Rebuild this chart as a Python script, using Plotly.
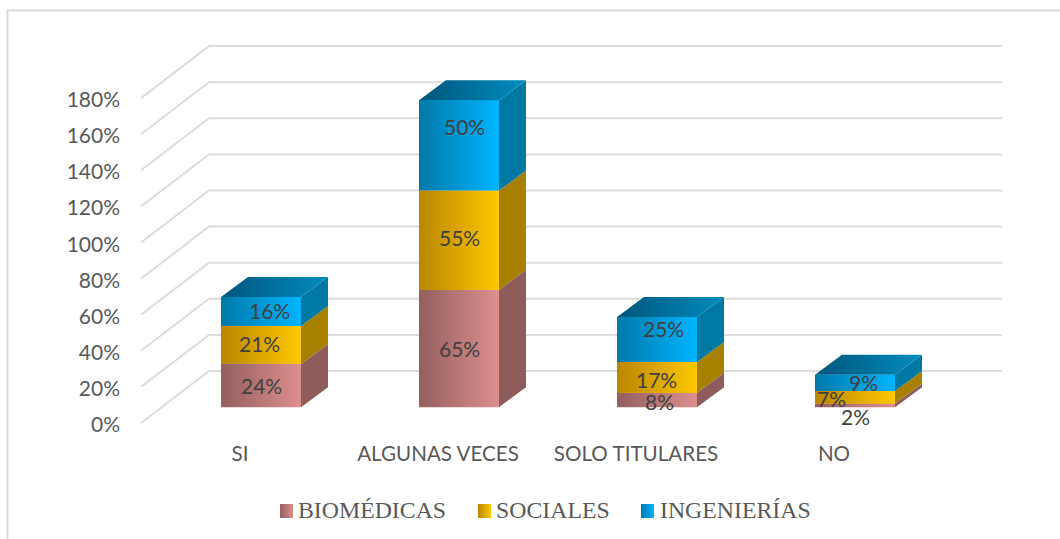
import plotly.graph_objects as go

categories = ["SI", "ALGUNAS VECES", "SOLO TITULARES", "NO"]
series_names = ["BIOMÉDICAS", "SOCIALES", "INGENIERÍAS"]
biomedicas = [24, 65, 8, 2]
sociales = [21, 55, 17, 7]
ingenierias = [16, 50, 25, 9]
series_values = [biomedicas, sociales, ingenierias]
axis_ticks = [0, 20, 40, 60, 80, 100, 120, 140, 160, 180]

W, H = 1060, 539
PLOT_L, PLOT_R, PLOT_T, PLOT_B = 123, 1060, 0, 439
PX_PER_CAT = 198.0
PX_PER_PCT = 1.805
X0_PX = 240.0      # pixel of category 0 tick label
Y0_PX = 407.2      # pixel of value 0 on the bars' front plane

def ux(px):  # horizontal pixel length to category units
    return px / PX_PER_CAT
def uy(px):  # vertical pixel length to percentage units
    return px / PX_PER_PCT

x_range = [(PLOT_L - X0_PX) / PX_PER_CAT, (PLOT_R - X0_PX) / PX_PER_CAT]
y_range = [(Y0_PX - PLOT_B) / PX_PER_PCT, (Y0_PX - PLOT_T) / PX_PER_PCT]

BAR_SHIFT = ux(21)
BAR_W = ux(80)
DEPTH_X, DEPTH_Y = ux(27), uy(20)
WALL_FRONT_X = x_range[0] + ux(18)
WALL_BACK_X = x_range[0] + ux(86)
WALL_RIGHT_X = x_range[0] + ux(879)
WALL_FRONT_DY = -uy(15.8)
WALL_BACK_DY = uy(36.2)
TICK_LABEL_DY = -uy(17.5)
GRID = "#DCDCDC"

front_grad = [("#935F5F", "#DD8F8D"), ("#B98600", "#FFC800"), ("#0079A9", "#00B5FF")]
side_col = ["#8E5C5B", "#A88000", "#0078A4"]
top_grad = ("#00567C", "#008CBE")

fig = go.Figure()

# Walls: gridlines derived from the axis ticks
for t in axis_ticks:
    fig.add_trace(go.Scatter(
        x=[WALL_FRONT_X, WALL_BACK_X, WALL_RIGHT_X],
        y=[t + WALL_FRONT_DY, t + WALL_BACK_DY, t + WALL_BACK_DY],
        mode="lines", line=dict(color=GRID, width=2), hoverinfo="skip", showlegend=False))

# Native stacked bars (front faces), gradient overlays are added after them
for name, vals, grad in zip(series_names, series_values, front_grad):
    fig.add_trace(go.Bar(
        x=[i + BAR_SHIFT for i in range(len(categories))], y=vals, name=name, width=BAR_W,
        marker=dict(color=grad[1], line=dict(width=0)), showlegend=False))

def poly(xs, ys, **kw):
    fig.add_trace(go.Scatter(x=xs, y=ys, mode="lines", fill="toself", line=dict(width=0),
                             hoverinfo="skip", showlegend=False, **kw))

for i in range(len(categories)):
    xl = i + BAR_SHIFT - BAR_W / 2
    xr = i + BAR_SHIFT + BAR_W / 2
    base = 0
    for s, vals in enumerate(series_values):
        top = base + vals[i]
        # right side
        poly([xr, xr + DEPTH_X, xr + DEPTH_X, xr, xr],
             [base, base + DEPTH_Y, top + DEPTH_Y, top, base], fillcolor=side_col[s])
        # front
        poly([xl, xr, xr, xl, xl], [base, base, top, top, base],
             fillgradient=dict(type="horizontal",
                               colorscale=[[0, front_grad[s][0]], [1, front_grad[s][1]]]))
        base = top
    # top lid
    poly([xl, xr, xr + DEPTH_X, xl + DEPTH_X, xl],
         [base, base, base + DEPTH_Y, base + DEPTH_Y, base],
         fillgradient=dict(type="horizontal", colorscale=[[0, top_grad[0]], [1, top_grad[1]]]))

# Data labels: placed on segment midpoints, with the reference's manual nudges
label_dx = [[0, -2, 8], [0, 0, 5], [2, -1, 6], [0, -24, 8]]
label_dy = [[0, 1, 1], [0, 3, 19], [-2, -2, 11], [-11, -1, 0]]
annotations = []
for i in range(len(categories)):
    base = 0
    for s, vals in enumerate(series_values):
        annotations.append(dict(
            x=i + BAR_SHIFT, y=base + vals[i] / 2, xref="x", yref="y",
            text=f"{vals[i]}%", showarrow=False, xshift=label_dx[i][s], yshift=label_dy[i][s],
            font=dict(family="Lato", size=21, color="#404040")))
        base += vals[i]

# Legend drawn in a page-pixel subplot so the swatches can carry the gradient
swatch_x = [280, 478, 641]
text_x = [298, 496, 659.5]
SW, SY0, SY1 = 13, 504, 518
for s, name in enumerate(series_names):
    x0 = swatch_x[s]
    fig.add_trace(go.Scatter(
        x=[x0, x0 + SW, x0 + SW, x0, x0], y=[SY0, SY0, SY1, SY1, SY0],
        xaxis="x2", yaxis="y2", mode="lines", fill="toself", line=dict(width=0),
        fillgradient=dict(type="horizontal",
                          colorscale=[[0, front_grad[s][0]], [1, front_grad[s][1]]]),
        hoverinfo="skip", showlegend=False))
    annotations.append(dict(x=text_x[s], y=510, xref="x2", yref="y2", xanchor="left", text=name,
                            showarrow=False, xshift=-2,
                            font=dict(family="Liberation Serif", size=23.8, color="#595959")))

fig.update_layout(
    width=W, height=H, margin=dict(l=0, r=0, t=0, b=0),
    paper_bgcolor="white", plot_bgcolor="rgba(0,0,0,0)", barmode="stack", showlegend=False,
    annotations=annotations,
    xaxis=dict(domain=[PLOT_L / W, PLOT_R / W], range=x_range, showgrid=False, zeroline=False,
               showline=False, ticks="", tickmode="array", tickvals=list(range(len(categories))),
               ticktext=categories, tickfont=dict(family="Lato", size=20.6, color="#595959")),
    yaxis=dict(domain=[1 - PLOT_B / H, 1 - PLOT_T / H], range=y_range, showgrid=False, zeroline=False,
               showline=False, ticks="", tickmode="array", ticklabelstandoff=2,
               tickvals=[t + TICK_LABEL_DY for t in axis_ticks], ticktext=[f"{t}%" for t in axis_ticks],
               tickfont=dict(family="Lato", size=21, color="#595959")),
    xaxis2=dict(domain=[0, 1], range=[0, W], anchor="y2", visible=False),
    yaxis2=dict(domain=[0, 1], range=[H, 0], anchor="x2", visible=False),
    shapes=[dict(type="path", xref="paper", yref="paper", layer="below",
                 path=f"M {7.5/W} 0 L {7.5/W} {1-10.5/H} L 1 {1-10.5/H}",
                 line=dict(color="#D9D9D9", width=2))],
)

fig.write_html("out.html", config={"displayModeBar": False},
               post_script="document.body.style.margin='0';document.body.style.overflow='hidden';")
